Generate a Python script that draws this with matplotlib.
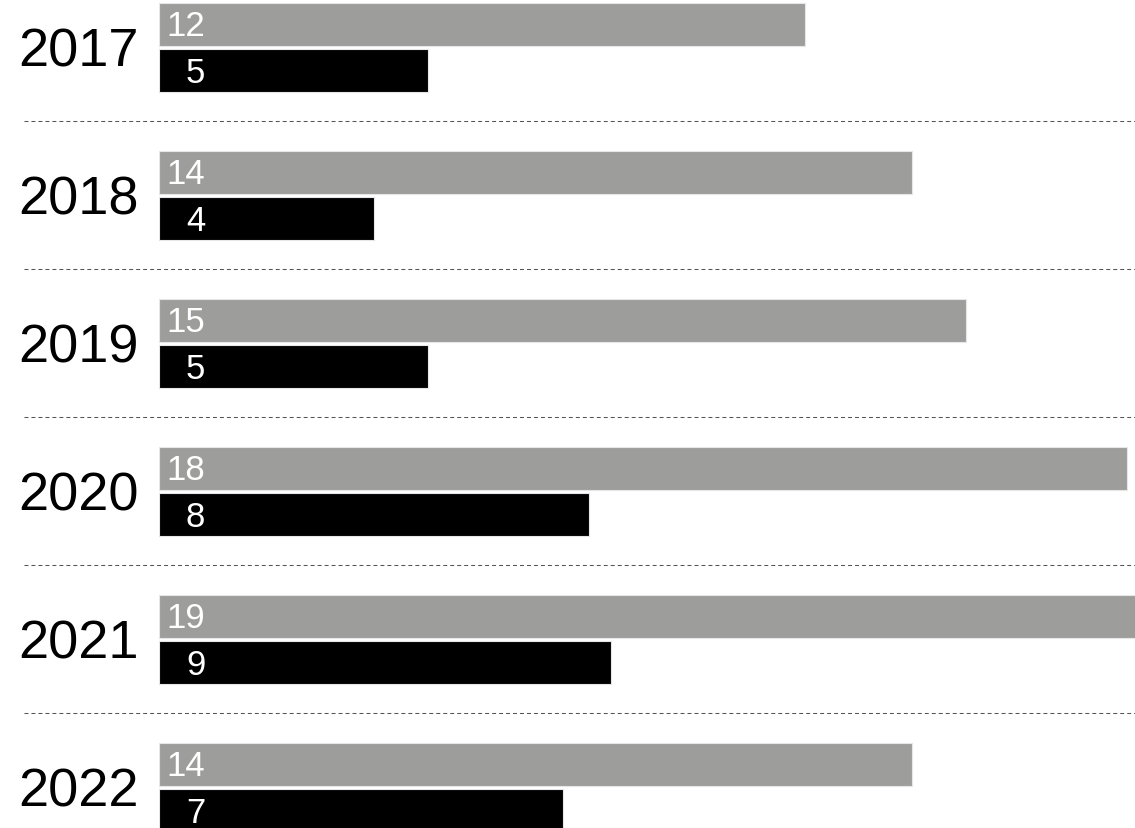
import matplotlib.pyplot as plt

# values
years = ["2017", "2018", "2019", "2020", "2021", "2022"]
gray_values = [12, 14, 15, 18, 19, 14]
gray_labels = ["12", "14", "15", "18", "19", "14"]
black_values = [5, 4, 5, 8, 8.4, 7.5]
black_labels = ["5", "4", "5", "8", "9", "7"]

GRAY = "#9d9d9b"
BLACK = "#000000"

plt.rcParams["font.family"] = ["Liberation Sans", "DejaVu Sans"]

W, H = 1135, 829
fig = plt.figure(figsize=(W / 100, H / 100), dpi=100)
ax = fig.add_axes([159 / W, 0, 1 - 159 / W, 1])

px_per_unit = 53.8
group = 148.0  # pixels per year
ax.set_xlim(0, (W - 159) / px_per_unit)
ax.set_ylim((H - 25) / group, -25 / group)

bar_h = 43 / group
off = 46.5 / group

for i, year in enumerate(years):
    ax.barh(i, gray_values[i], height=bar_h, color=GRAY, edgecolor="#e6e6e6", linewidth=0.8)
    ax.barh(i + off, black_values[i], height=bar_h, color=BLACK, edgecolor="#e6e6e6", linewidth=0.8)

    # value labels, right aligned near the start of the bar
    ax.text(0.86, i + 0.077, gray_labels[i], color="white", fontsize=25,
            ha="right", va="baseline")
    ax.text(0.86, i + off + 0.08, black_labels[i], color="white", fontsize=25,
            ha="right", va="baseline")

    ax.text(-0.021, i + 0.28, year, color="black", fontsize=39, ha="right", va="baseline",
            transform=ax.get_yaxis_transform())

    if i < len(years) - 1:
        ax.axhline(i + 97 / group, xmin=(24 - 159) / (W - 159), xmax=1, color="#555555",
                   linewidth=0.75, linestyle=(0, (3.8, 2.9)), clip_on=False)

ax.axis("off")
fig.savefig("out.png", dpi=100)
